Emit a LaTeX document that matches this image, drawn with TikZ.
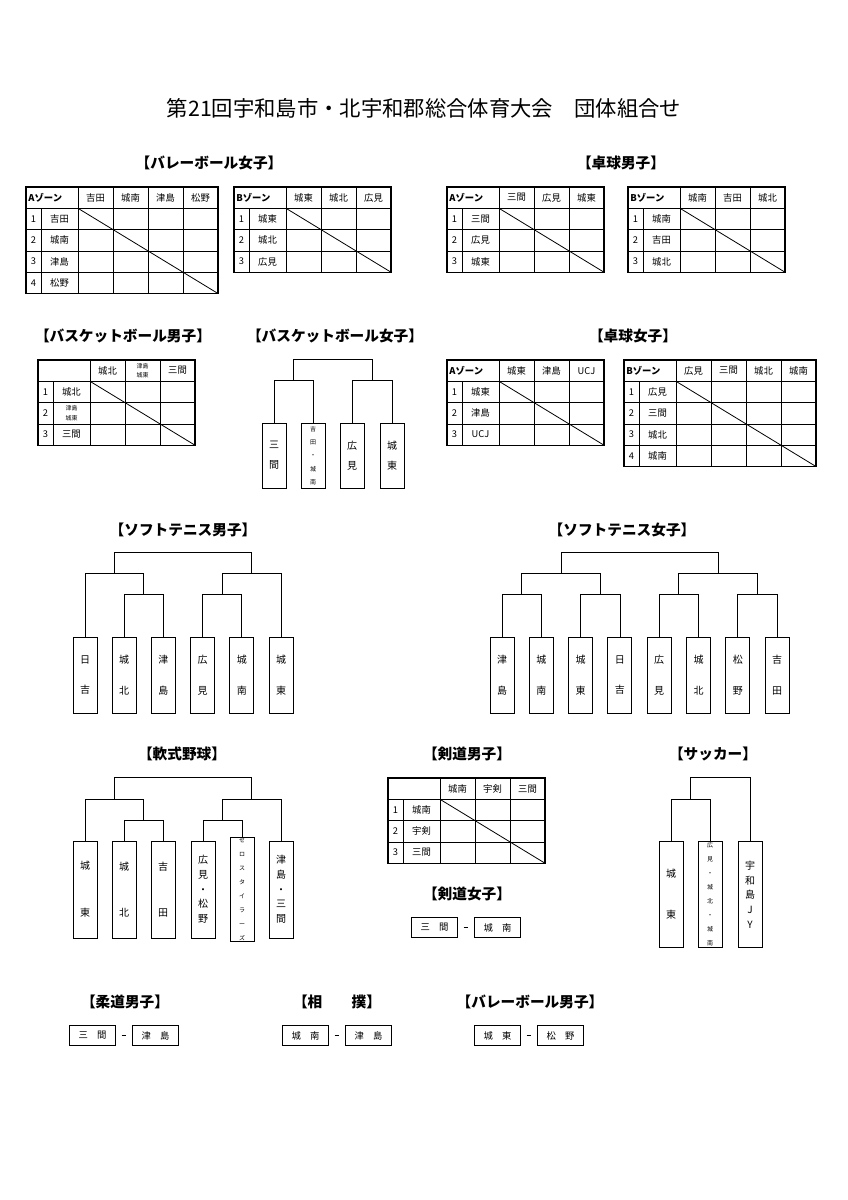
\documentclass[tikz,border=0pt]{standalone}
\usepackage{fontspec}
\setmainfont{Noto Sans CJK JP}
\tikzset{
  hd/.style={font=\fontsize{11}{12}\selectfont\bfseries},
  cell/.style={font=\fontsize{7}{8}\selectfont, inner sep=0pt},
  tbox/.style={draw, line width=0.7pt, minimum width=18pt, inner sep=0pt, align=center,
    font=\fontsize{7.5}{9}\selectfont},
  pbox/.style={draw, line width=0.7pt, minimum width=35pt, minimum height=15.5pt, inner sep=0pt,
    font=\fontsize{7}{8}\selectfont},
  br/.style={line width=0.6pt},
}
% league table: x, y, number of teams, zone label, teams
\newcommand{\league}[5]{%
  \begin{scope}[shift={(#1,#2)}, line width=0.6pt]
    \pgfmathsetmacro\W{52+35*#3}
    \pgfmathsetmacro\H{21.3*(#3+1)}
    \draw[line width=0.9pt] (0,0) rectangle (\W,\H);
    \draw (15,21.3) -- (15,\H);
    \draw (52,0) -- (52,\H);
    \node[cell, anchor=west, font=\fontsize{7}{8}\selectfont\bfseries] at (2,10.65) {#4};
    \foreach \t [count=\i] in {#5} {
      \draw (0,21.3*\i) -- (\W,21.3*\i);
      \draw (52+35*\i,0) -- (52+35*\i,\H);
      \node[cell] at (34.5+35*\i,10.65) {\t};
      \node[cell] at (7.5,21.3*\i+10.65) {\i};
      \node[cell] at (33.5,21.3*\i+10.65) {\t};
    }
    \draw (52,21.3) -- (\W,\H);
  \end{scope}}
% bracket join: left end, right end, height, name of middle
\newcommand{\join}[4]{%
  \draw[br] (#1) |- coordinate[pos=.75] (#4) (#2 |- 0,#3) -- (#2);}
\newcommand{\tsm}{\fontsize{4.5}{6}\selectfont}
\begin{document}
\begin{tikzpicture}[x=0.75pt, y=-0.75pt]
  \useasboundingbox (0,0) rectangle (848,1200);

  \node[font=\fontsize{16}{18}\selectfont] (title) at (424,108)
    {第21回宇和島市・北宇和郡総合体育大会　団体組合せ};

  % headings
  \node[hd] (h1) at (209,163) {【バレーボール女子】};
  \node[hd] (h2) at (621,163) {【卓球男子】};
  \node[hd] (h3) at (123,336) {【バスケットボール男子】};
  \node[hd] (h4) at (335,336) {【バスケットボール女子】};
  \node[hd] (h5) at (633,336) {【卓球女子】};
  \node[hd] (h6) at (183,530) {【ソフトテニス男子】};
  \node[hd] (h7) at (622,530) {【ソフトテニス女子】};
  \node[hd] (h8) at (182,754) {【軟式野球】};
  \node[hd] (h9) at (467,754) {【剣道男子】};
  \node[hd] (h10) at (713,754) {【サッカー】};
  \node[hd] (h11) at (467,894) {【剣道女子】};
  \node[hd] (h12) at (125,1002) {【柔道男子】};
  \node[hd] (h13) at (337,1002) {【相　　撲】};
  \node[hd] (h14) at (530,1002) {【バレーボール男子】};

  % league tables
  \league{26}{187}{4}{Aゾーン}{吉田,城南,津島,松野}
  \league{234}{187}{3}{Bゾーン}{城東,城北,広見}
  \league{447}{187}{3}{Aゾーン}{三間,広見,城東}
  \league{628}{187}{3}{Bゾーン}{城南,吉田,城北}
  \league{38}{360}{3}{}{城北,{\tsm\shortstack{津島\\城東}},三間}
  \league{447}{360}{3}{Aゾーン}{城東,津島,UCJ}
  \league{624}{360}{4}{Bゾーン}{広見,三間,城北,城南}
  \league{388}{778}{3}{}{城南,宇剣,三間}

  % basketball girls
  \node[tbox, minimum height=48.75pt] (bg1) at (274,455.5) {三\\[6pt]間};
  \node[tbox, minimum height=48.75pt] (bg2) at (313,455.5) {\tsm 吉\\[1pt]\tsm 田\\[1pt]\tsm ・\\[1pt]\tsm 城\\[1pt]\tsm 南};
  \node[tbox, minimum height=48.75pt] (bg3) at (352,455.5) {広\\[6pt]見};
  \node[tbox, minimum height=48.75pt] (bg4) at (392,455.5) {城\\[6pt]東};
  \join{bg1.north}{bg2.north}{380}{bg12}
  \join{bg3.north}{bg4.north}{380}{bg34}
  \join{bg12}{bg34}{359}{bgf}

  % soft tennis boys
  \foreach \t [count=\i] in {日\\[14pt]吉,城\\[14pt]北,津\\[14pt]島,広\\[14pt]見,城\\[14pt]南,城\\[14pt]東} {
    \pgfmathsetmacro\cx{85+39.2*(\i-1)}
    \node[tbox, minimum height=57pt] (sb\i) at (\cx,675) {\t};
  }
  \join{sb2.north}{sb3.north}{594}{sb23}
  \join{sb1.north}{sb23}{573}{sbl}
  \join{sb4.north}{sb5.north}{594}{sb45}
  \join{sb45}{sb6.north}{573}{sbr}
  \join{sbl}{sbr}{552}{sbf}

  % soft tennis girls
  \foreach \t [count=\i] in {津\\[14pt]島,城\\[14pt]南,城\\[14pt]東,日\\[14pt]吉,広\\[14pt]見,城\\[14pt]北,松\\[14pt]野,吉\\[14pt]田} {
    \pgfmathsetmacro\cx{502+39.3*(\i-1)}
    \node[tbox, minimum height=57pt] (sg\i) at (\cx,675) {\t};
  }
  \join{sg1.north}{sg2.north}{594}{sg12}
  \join{sg3.north}{sg4.north}{594}{sg34}
  \join{sg5.north}{sg6.north}{594}{sg56}
  \join{sg7.north}{sg8.north}{594}{sg78}
  \join{sg12}{sg34}{573}{sgl}
  \join{sg56}{sg78}{573}{sgr}
  \join{sgl}{sgr}{552}{sgf}

  % baseball
  \node[tbox, minimum height=72.75pt] (bb1) at (85,889.5) {城\\[26pt]東};
  \node[tbox, minimum height=72.75pt] (bb2) at (124,889.5) {城\\[26pt]北};
  \node[tbox, minimum height=72.75pt] (bb3) at (163,889.5) {吉\\[26pt]田};
  \node[tbox, minimum height=72.75pt] (bb4) at (203,889.5) {広\\[2pt]見\\[2pt]・\\[2pt]松\\[2pt]野};
  \node[tbox, minimum height=72.75pt] (bb5) at (242,889.5) {\tsm ゼ\\[1.5pt]\tsm ロ\\[1.5pt]\tsm ス\\[1.5pt]\tsm タ\\[1.5pt]\tsm イ\\[1.5pt]\tsm ラ\\[1.5pt]\tsm ー\\[1.5pt]\tsm ズ};
  \node[tbox, minimum height=72.75pt] (bb6) at (281,889.5) {津\\[2pt]島\\[2pt]・\\[2pt]三\\[2pt]間};
  \join{bb2.north}{bb3.north}{820}{bb23}
  \join{bb1.north}{bb23}{799}{bbl}
  \join{bb4.north}{bb5.north}{820}{bb45}
  \join{bb45}{bb6.north}{799}{bbr}
  \join{bbl}{bbr}{777}{bbf}

  % soccer
  \node[tbox, minimum height=80pt] (sc1) at (671,894.5) {城\\[22pt]東};
  \node[tbox, minimum height=80pt] (sc2) at (710,894.5) {\tsm 広\\[1.5pt]\tsm 見\\[1.5pt]\tsm ・\\[1.5pt]\tsm 城\\[1.5pt]\tsm 北\\[1.5pt]\tsm ・\\[1.5pt]\tsm 城\\[1.5pt]\tsm 南};
  \node[tbox, minimum height=80pt] (sc3) at (750,894.5) {宇\\[2pt]和\\[2pt]島\\[2pt]J\\[2pt]Y};
  \join{sc1.north}{sc2.north}{799}{sc12}
  \join{sc12}{sc3.north}{777}{scf}

  % single matches
  \node[pbox] (kg1) at (434.5,927.5) {三　間};
  \node[pbox] (kg2) at (497.5,927.5) {城　南};
  \node[pbox] (jb1) at (92.5,1035.5) {三　間};
  \node[pbox] (jb2) at (155.5,1035.5) {津　島};
  \node[pbox] (sm1) at (305.5,1035.5) {城　南};
  \node[pbox] (sm2) at (368.5,1035.5) {津　島};
  \node[pbox] (vb1) at (497.5,1035.5) {城　東};
  \node[pbox] (vb2) at (560.5,1035.5) {松　野};
  \foreach \a/\b in {kg1/kg2, jb1/jb2, sm1/sm2, vb1/vb2}
    \draw[br, shorten <=4pt, shorten >=4pt] (\a) -- (\b);
\end{tikzpicture}
\end{document}
